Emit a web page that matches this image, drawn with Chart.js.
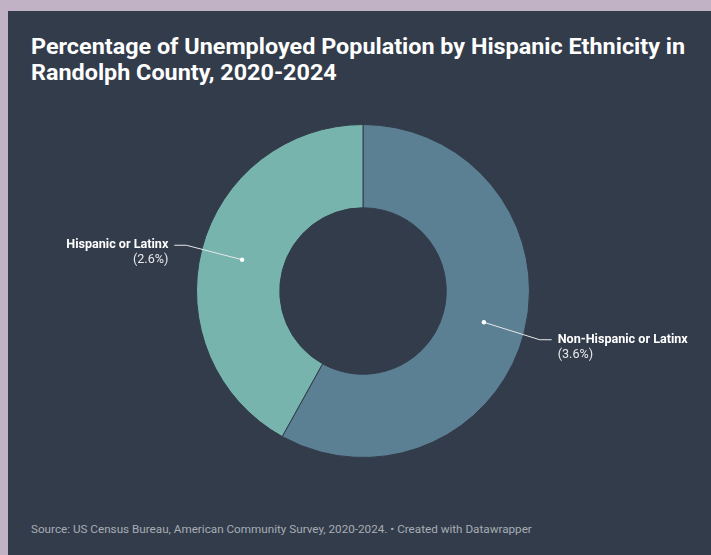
<!DOCTYPE html>
<html>
<head>
<meta charset="utf-8">
<script src="https://cdn.jsdelivr.net/npm/chart.js@4.4.1/dist/chart.umd.min.js"></script>
<style>
  html, body { margin: 0; padding: 0; }
  body { width: 711px; height: 555px; background: #c2b2c5; position: relative; overflow: hidden; font-family: Roboto, "Noto Sans", sans-serif; }
  #card { position: absolute; left: 8px; top: 11px; width: 703px; height: 544px; background: #333c4a; }
  #title { position: absolute; left: 23px; top: 23px; margin: 0; color: #ffffff; font-weight: 700; font-size: 22px; line-height: 26px; white-space: nowrap; }
  #title span { display: block; transform-origin: 0 50%; }
  #source { position: absolute; left: 23px; top: 510px; color: #a7adb5; font-size: 11.7px; line-height: 16px; white-space: nowrap; }
  #chart { position: absolute; left: 0; top: 0; }
</style>
</head>
<body>
<div id="card">
  <h1 id="title"><span>Percentage of Unemployed Population by Hispanic Ethnicity in</span><span>Randolph County, 2020-2024</span></h1>
  <div id="source">Source: US Census Bureau, American Community Survey, 2020-2024. • Created with Datawrapper</div>
</div>
<canvas id="chart" width="711" height="555"></canvas>
<script>
// Unemployment share by Hispanic ethnicity (percent)
const categories = ["Non-Hispanic or Latinx", "Hispanic or Latinx"];
const values = [3.6, 2.6];
const valueLabels = ["(3.6%)", "(2.6%)"];
const sliceColors = ["#5b7f93", "#76b4ad"];

// Stretch the first title line to its set width
(function () {
  const first = document.querySelector('#title span');
  const w = first.getBoundingClientRect().width;
  const target = 654;
  if (w > 0) {
    const s = target / w;
    document.querySelectorAll('#title span').forEach(el => el.style.transform = 'scaleX(' + s + ')');
  }
})();

// Outside labels with leader lines, placed from each arc's geometry
const calloutPlugin = {
  id: 'callouts',
  afterDatasetsDraw(chart) {
    const ctx = chart.ctx;
    const meta = chart.getDatasetMeta(0);
    meta.data.forEach((arc, i) => {
      const p = arc.getProps(['x', 'y', 'startAngle', 'endAngle', 'innerRadius', 'outerRadius'], true);
      const mid = (p.startAngle + p.endAngle) / 2;
      const cx = Math.cos(mid), cy = Math.sin(mid);
      const rDot = (p.innerRadius + p.outerRadius) / 2;
      const dx = p.x + cx * rDot, dy = p.y + cy * rDot;
      const rElb = p.outerRadius + 16;
      const ex = p.x + cx * rElb, ey = p.y + cy * rElb + (cy > 0 ? 3 : 0);
      const right = cx >= 0;
      const hx = ex + (right ? 12 : -12);
      ctx.save();
      ctx.strokeStyle = '#e6e8ea';
      ctx.lineWidth = 1;
      ctx.beginPath();
      ctx.moveTo(dx, dy);
      ctx.lineTo(ex, ey);
      ctx.lineTo(hx, ey);
      ctx.stroke();
      ctx.fillStyle = '#ffffff';
      ctx.beginPath();
      ctx.arc(dx, dy, 2.2, 0, Math.PI * 2);
      ctx.fill();
      const tx = hx + (right ? 6 : -6);
      ctx.textAlign = right ? 'left' : 'right';
      ctx.textBaseline = 'middle';
      ctx.font = '700 12.6px Roboto, sans-serif';
      ctx.fillStyle = '#ffffff';
      ctx.fillText(categories[i], tx, ey);
      ctx.font = '400 12.6px Roboto, sans-serif';
      ctx.fillStyle = '#e8eaec';
      ctx.fillText(valueLabels[i], tx, ey + 15);
      ctx.restore();
    });
  }
};

new Chart(document.getElementById('chart'), {
  type: 'doughnut',
  data: {
    labels: categories,
    datasets: [{
      data: values,
      backgroundColor: sliceColors,
      borderColor: '#333c4a',
      borderWidth: 1
    }]
  },
  options: {
    responsive: false,
    animation: false,
    cutout: '50%',
    rotation: 0,
    layout: { padding: { left: 196, right: 181, top: 124, bottom: 97 } },
    plugins: {
      legend: { display: false },
      tooltip: { enabled: false },
      title: { display: false }
    }
  },
  plugins: [calloutPlugin]
});
</script>
</body>
</html>
